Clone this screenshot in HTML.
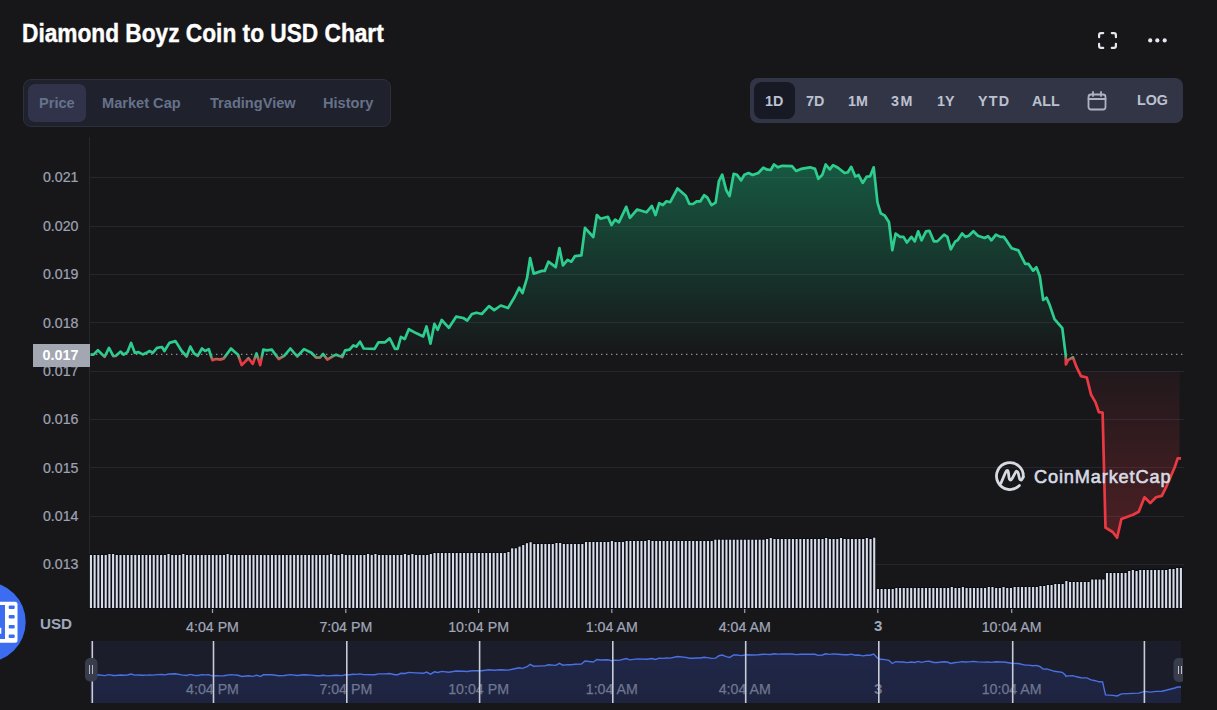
<!DOCTYPE html>
<html><head><meta charset="utf-8"><style>
html,body{margin:0;padding:0;background:#17171a;width:1217px;height:710px;overflow:hidden;font-family:"Liberation Sans",sans-serif;}
.abs{position:absolute}
.title{position:absolute;left:22px;top:20.5px;font-size:22.7px;transform:scaleY(1.12);transform-origin:0 21px;-webkit-text-stroke:0.35px #fff;font-weight:700;color:#fff;white-space:nowrap;letter-spacing:0}
.tabs{position:absolute;left:23px;top:79px;width:366px;height:46px;background:#1f212d;border:1px solid #2c2f3c;border-radius:8px;box-sizing:content-box}
.tab{position:absolute;top:4px;height:38px;line-height:38px;font-size:14.6px;font-weight:700;color:#66728a;white-space:nowrap}
.tabsel{background:#30334a;border-radius:7px}
.rg{position:absolute;left:750px;top:78px;width:433px;height:45px;background:#323546;border-radius:8px}
.rb{position:absolute;top:15px;font-size:14.3px;font-weight:700;color:#bcc1d0;white-space:nowrap;line-height:16px;transform:scaleY(1.05);transform-origin:0 13px}
.sel1d{position:absolute;left:4px;top:4px;width:41px;height:37px;background:#171924;border-radius:8px}
.yl{position:absolute;left:19px;width:59.5px;text-align:right;font-size:14.2px;color:#9ea3b3;line-height:18px;-webkit-text-stroke:0.2px #9ea3b3}
.xl{position:absolute;top:617.5px;width:120px;text-align:center;font-size:14.2px;color:#a1a7bb;line-height:18px;-webkit-text-stroke:0.2px #a1a7bb}
.nl{position:absolute;top:680px;width:120px;text-align:center;font-size:14.2px;color:#6e7690;line-height:18px;-webkit-text-stroke:0.25px #6e7690}
</style></head><body>
<div class="title">Diamond Boyz Coin to USD Chart</div>

<svg class="abs" style="left:1098px;top:32px" width="19" height="17" viewBox="0 0 19 17" fill="none" stroke="#e6e8ef" stroke-width="2.2" stroke-linecap="round">
<path d="M1.1,5.2 V3 Q1.1,1.1 3,1.1 H5.2"/><path d="M13.8,1.1 H16 Q17.9,1.1 17.9,3 V5.2"/><path d="M1.1,11.8 V14 Q1.1,15.9 3,15.9 H5.2"/><path d="M13.8,15.9 H16 Q17.9,15.9 17.9,14 V11.8"/>
</svg>
<svg class="abs" style="left:1145px;top:35px" width="24" height="11" viewBox="0 0 24 11" fill="#e6e8ef">
<circle cx="5.2" cy="5.4" r="2.1"/><circle cx="12.3" cy="5.4" r="2.1"/><circle cx="19.7" cy="5.4" r="2.1"/>
</svg>

<div class="tabs">
 <div class="tab tabsel" style="left:4px;width:58px;"><span style="position:absolute;left:11px">Price</span></div>
 <div class="tab" style="left:78px">Market Cap</div>
 <div class="tab" style="left:186px">TradingView</div>
 <div class="tab" style="left:299px">History</div>
</div>

<div class="rg">
 <div class="sel1d"></div>
 <div class="rb" style="left:15px">1D</div>
 <div class="rb" style="left:56px">7D</div>
 <div class="rb" style="left:98px">1M</div>
 <div class="rb" style="left:141px;letter-spacing:1.5px">3M</div>
 <div class="rb" style="left:187px">1Y</div>
 <div class="rb" style="left:228px;letter-spacing:1.2px">YTD</div>
 <div class="rb" style="left:282px">ALL</div>
 <svg class="abs" style="left:336.5px;top:12.5px" width="20" height="20" viewBox="0 0 20 20" fill="none" stroke="#aeb3c3" stroke-width="1.8" stroke-linecap="round">
  <rect x="1.5" y="3.5" width="17" height="15" rx="2.5"/><line x1="1.5" y1="8" x2="18.5" y2="8"/><line x1="6" y1="1" x2="6" y2="5"/><line x1="14" y1="1" x2="14" y2="5"/>
 </svg>
 <div class="rb" style="left:387px;top:14px">LOG</div>
</div>

<div class="yl" style="top:168.3px">0.021</div>
<div class="yl" style="top:216.8px">0.020</div>
<div class="yl" style="top:265.2px">0.019</div>
<div class="yl" style="top:313.5px">0.018</div>
<div class="yl" style="top:362.0px">0.017</div>
<div class="yl" style="top:410.2px">0.016</div>
<div class="yl" style="top:458.5px">0.015</div>
<div class="yl" style="top:506.9px">0.014</div>
<div class="yl" style="top:555.3px">0.013</div>

<svg class="abs" style="left:0;top:0" width="1217" height="710" viewBox="0 0 1217 710">
<defs>
 <linearGradient id="gg" x1="0" y1="165" x2="0" y2="354.4" gradientUnits="userSpaceOnUse">
  <stop offset="0" stop-color="#16c784" stop-opacity="0.37"/><stop offset="1" stop-color="#16c784" stop-opacity="0.0"/>
 </linearGradient>
 <linearGradient id="rg" x1="0" y1="371" x2="0" y2="538" gradientUnits="userSpaceOnUse">
  <stop offset="0" stop-color="#ea3943" stop-opacity="0.05"/><stop offset="1" stop-color="#ea3943" stop-opacity="0.25"/>
 </linearGradient>
 <linearGradient id="lg" x1="0" y1="354.9" x2="0" y2="360.4" gradientUnits="userSpaceOnUse">
  <stop offset="0" stop-color="#2ccd8e"/><stop offset="1" stop-color="#ea3943"/>
 </linearGradient>
 <clipPath id="above"><rect x="0" y="0" width="1217" height="354.4"/></clipPath>
 <clipPath id="below"><rect x="0" y="371.5" width="1179.5" height="710"/></clipPath>
 <linearGradient id="navg" x1="0" y1="650" x2="0" y2="703" gradientUnits="userSpaceOnUse">
  <stop offset="0" stop-color="#3861fb" stop-opacity="0.15"/><stop offset="1" stop-color="#3861fb" stop-opacity="0.10"/>
 </linearGradient>
</defs>
<g stroke="#26272e" stroke-width="1" shape-rendering="crispEdges">
<line x1="90" y1="177.5" x2="1184" y2="177.5"/>
<line x1="90" y1="226.0" x2="1184" y2="226.0"/>
<line x1="90" y1="274.4" x2="1184" y2="274.4"/>
<line x1="90" y1="322.7" x2="1184" y2="322.7"/>
<line x1="90" y1="371.2" x2="1184" y2="371.2"/>
<line x1="90" y1="419.4" x2="1184" y2="419.4"/>
<line x1="90" y1="467.7" x2="1184" y2="467.7"/>
<line x1="90" y1="516.1" x2="1184" y2="516.1"/>
<line x1="90" y1="564.5" x2="1184" y2="564.5"/>
<line x1="89.5" y1="137" x2="89.5" y2="608"/>
</g>
<path d="M90.5,354.6 L93.5,354.6 L97.9,350.3 L104.6,356.9 L109.0,347.9 L113.3,356.1 L115.7,355.9 L120.7,351.6 L123.7,354.7 L127.4,352.2 L131.1,342.9 L134.8,352.8 L138.5,352.2 L142.8,354.4 L146.5,352.8 L149.6,351.0 L152.7,352.8 L157.0,347.9 L162.0,347.0 L164.4,351.0 L169.4,342.9 L175.5,341.1 L181.7,351.0 L186.6,356.5 L190.3,346.6 L194.0,353.4 L197.7,355.9 L202.0,348.5 L205.1,351.0 L208.8,349.1 L211.3,357.1 L212.5,360.2 L216.2,359.0 L219.9,359.6 L223.6,358.6 L231.0,348.5 L233.7,351.0 L238.0,354.7 L241.7,365.1 L248.5,358.3 L252.8,363.9 L256.5,353.4 L260.2,365.1 L263.3,349.7 L267.0,350.3 L271.9,349.7 L278.7,359.0 L284.2,355.9 L290.4,348.5 L297.2,356.5 L304.0,349.1 L311.4,352.8 L316.3,357.7 L320.0,357.7 L323.1,354.0 L327.4,359.6 L333.5,355.9 L336.0,354.7 L342.2,357.1 L345.2,350.3 L349.6,349.7 L353.3,345.4 L356.3,346.6 L360.0,341.7 L363.7,348.5 L374.6,348.9 L378.5,342.3 L385.1,342.3 L389.7,338.4 L395.0,348.9 L397.6,348.9 L400.9,337.0 L404.8,339.0 L408.8,329.2 L416.0,333.1 L423.2,336.4 L426.5,326.5 L430.5,343.6 L434.4,323.9 L437.7,329.8 L441.7,320.0 L448.9,327.8 L456.1,316.7 L463.3,318.0 L467.3,320.6 L471.9,314.0 L476.5,312.7 L481.8,314.0 L489.0,306.2 L494.2,310.1 L500.8,305.5 L508.0,308.1 L514.6,297.0 L519.2,287.7 L522.5,293.0 L527.0,278.2 L530.1,258.1 L533.7,273.6 L542.0,270.9 L544.7,270.9 L548.4,261.7 L555.7,267.2 L559.4,248.0 L563.0,265.4 L567.6,259.9 L571.3,261.7 L574.9,256.2 L581.4,255.3 L585.0,227.8 L593.3,237.0 L596.9,215.0 L600.6,218.7 L607.9,216.8 L611.6,225.1 L615.2,219.6 L618.9,222.3 L626.2,206.8 L629.9,217.8 L637.2,209.5 L646.4,212.3 L651.9,205.9 L655.5,215.0 L659.2,203.1 L662.9,205.0 L666.5,201.3 L670.2,202.2 L677.5,188.5 L685.8,195.8 L689.4,204.0 L693.1,204.0 L696.7,201.3 L700.4,201.3 L704.1,195.2 L707.4,197.7 L711.5,205.1 L715.6,202.6 L718.9,181.2 L722.2,174.7 L726.3,190.3 L729.6,196.0 L733.7,173.8 L737.0,174.7 L741.1,180.4 L744.4,174.7 L748.5,173.0 L752.6,175.0 L758.3,173.0 L763.3,167.7 L767.4,169.7 L770.7,170.0 L774.0,164.5 L778.1,167.3 L782.2,165.8 L792.0,166.1 L796.1,171.0 L801.1,168.9 L810.1,167.3 L815.0,168.9 L818.3,178.8 L822.4,174.7 L825.7,164.5 L829.8,169.4 L833.1,165.1 L838.0,167.7 L844.6,173.0 L847.9,172.2 L851.2,166.8 L855.3,176.6 L858.6,175.0 L862.7,182.9 L866.8,176.6 L870.1,176.3 L873.7,167.3 L877.5,202.6 L880.8,213.3 L884.9,215.7 L889.0,222.3 L892.3,250.2 L895.6,233.5 L900.1,236.9 L903.5,236.9 L906.9,242.5 L911.4,236.9 L914.8,241.4 L918.2,231.3 L921.5,240.3 L926.0,231.3 L929.4,230.8 L933.9,241.4 L937.3,241.4 L944.1,234.6 L947.4,236.9 L950.8,249.3 L955.3,241.4 L957.6,240.3 L962.1,233.5 L965.5,236.9 L968.8,235.8 L973.4,231.3 L977.9,235.8 L984.6,238.0 L988.0,236.2 L991.4,240.3 L995.9,234.6 L1000.4,236.9 L1003.8,236.9 L1007.1,241.4 L1011.6,248.2 L1018.4,250.4 L1025.2,263.9 L1028.5,263.9 L1033.1,270.7 L1036.4,267.3 L1039.8,276.3 L1043.2,300.0 L1046.6,297.7 L1049.9,305.6 L1054.5,319.1 L1062.3,328.1 L1065.7,355.2 L1065.9,364.5 L1068.0,360.2 L1072.9,357.3 L1076.7,367.4 L1081.0,376.1 L1086.8,377.5 L1091.1,394.8 L1095.4,402.1 L1098.9,412.2 L1102.6,412.7 L1105.5,527.6 L1112.7,532.0 L1117.1,537.7 L1121.4,519.0 L1133.0,514.7 L1138.7,511.8 L1144.5,497.3 L1150.3,503.1 L1156.0,497.3 L1161.8,495.9 L1166.1,487.2 L1174.8,467.0 L1177.7,458.4 L1181.0,458.4 L1181.0,354.4 L90.5,354.4 Z" fill="url(#gg)" clip-path="url(#above)"/>
<path d="M90.5,354.6 L93.5,354.6 L97.9,350.3 L104.6,356.9 L109.0,347.9 L113.3,356.1 L115.7,355.9 L120.7,351.6 L123.7,354.7 L127.4,352.2 L131.1,342.9 L134.8,352.8 L138.5,352.2 L142.8,354.4 L146.5,352.8 L149.6,351.0 L152.7,352.8 L157.0,347.9 L162.0,347.0 L164.4,351.0 L169.4,342.9 L175.5,341.1 L181.7,351.0 L186.6,356.5 L190.3,346.6 L194.0,353.4 L197.7,355.9 L202.0,348.5 L205.1,351.0 L208.8,349.1 L211.3,357.1 L212.5,360.2 L216.2,359.0 L219.9,359.6 L223.6,358.6 L231.0,348.5 L233.7,351.0 L238.0,354.7 L241.7,365.1 L248.5,358.3 L252.8,363.9 L256.5,353.4 L260.2,365.1 L263.3,349.7 L267.0,350.3 L271.9,349.7 L278.7,359.0 L284.2,355.9 L290.4,348.5 L297.2,356.5 L304.0,349.1 L311.4,352.8 L316.3,357.7 L320.0,357.7 L323.1,354.0 L327.4,359.6 L333.5,355.9 L336.0,354.7 L342.2,357.1 L345.2,350.3 L349.6,349.7 L353.3,345.4 L356.3,346.6 L360.0,341.7 L363.7,348.5 L374.6,348.9 L378.5,342.3 L385.1,342.3 L389.7,338.4 L395.0,348.9 L397.6,348.9 L400.9,337.0 L404.8,339.0 L408.8,329.2 L416.0,333.1 L423.2,336.4 L426.5,326.5 L430.5,343.6 L434.4,323.9 L437.7,329.8 L441.7,320.0 L448.9,327.8 L456.1,316.7 L463.3,318.0 L467.3,320.6 L471.9,314.0 L476.5,312.7 L481.8,314.0 L489.0,306.2 L494.2,310.1 L500.8,305.5 L508.0,308.1 L514.6,297.0 L519.2,287.7 L522.5,293.0 L527.0,278.2 L530.1,258.1 L533.7,273.6 L542.0,270.9 L544.7,270.9 L548.4,261.7 L555.7,267.2 L559.4,248.0 L563.0,265.4 L567.6,259.9 L571.3,261.7 L574.9,256.2 L581.4,255.3 L585.0,227.8 L593.3,237.0 L596.9,215.0 L600.6,218.7 L607.9,216.8 L611.6,225.1 L615.2,219.6 L618.9,222.3 L626.2,206.8 L629.9,217.8 L637.2,209.5 L646.4,212.3 L651.9,205.9 L655.5,215.0 L659.2,203.1 L662.9,205.0 L666.5,201.3 L670.2,202.2 L677.5,188.5 L685.8,195.8 L689.4,204.0 L693.1,204.0 L696.7,201.3 L700.4,201.3 L704.1,195.2 L707.4,197.7 L711.5,205.1 L715.6,202.6 L718.9,181.2 L722.2,174.7 L726.3,190.3 L729.6,196.0 L733.7,173.8 L737.0,174.7 L741.1,180.4 L744.4,174.7 L748.5,173.0 L752.6,175.0 L758.3,173.0 L763.3,167.7 L767.4,169.7 L770.7,170.0 L774.0,164.5 L778.1,167.3 L782.2,165.8 L792.0,166.1 L796.1,171.0 L801.1,168.9 L810.1,167.3 L815.0,168.9 L818.3,178.8 L822.4,174.7 L825.7,164.5 L829.8,169.4 L833.1,165.1 L838.0,167.7 L844.6,173.0 L847.9,172.2 L851.2,166.8 L855.3,176.6 L858.6,175.0 L862.7,182.9 L866.8,176.6 L870.1,176.3 L873.7,167.3 L877.5,202.6 L880.8,213.3 L884.9,215.7 L889.0,222.3 L892.3,250.2 L895.6,233.5 L900.1,236.9 L903.5,236.9 L906.9,242.5 L911.4,236.9 L914.8,241.4 L918.2,231.3 L921.5,240.3 L926.0,231.3 L929.4,230.8 L933.9,241.4 L937.3,241.4 L944.1,234.6 L947.4,236.9 L950.8,249.3 L955.3,241.4 L957.6,240.3 L962.1,233.5 L965.5,236.9 L968.8,235.8 L973.4,231.3 L977.9,235.8 L984.6,238.0 L988.0,236.2 L991.4,240.3 L995.9,234.6 L1000.4,236.9 L1003.8,236.9 L1007.1,241.4 L1011.6,248.2 L1018.4,250.4 L1025.2,263.9 L1028.5,263.9 L1033.1,270.7 L1036.4,267.3 L1039.8,276.3 L1043.2,300.0 L1046.6,297.7 L1049.9,305.6 L1054.5,319.1 L1062.3,328.1 L1065.7,355.2 L1065.9,364.5 L1068.0,360.2 L1072.9,357.3 L1076.7,367.4 L1081.0,376.1 L1086.8,377.5 L1091.1,394.8 L1095.4,402.1 L1098.9,412.2 L1102.6,412.7 L1105.5,527.6 L1112.7,532.0 L1117.1,537.7 L1121.4,519.0 L1133.0,514.7 L1138.7,511.8 L1144.5,497.3 L1150.3,503.1 L1156.0,497.3 L1161.8,495.9 L1166.1,487.2 L1174.8,467.0 L1177.7,458.4 L1181.0,458.4 L1181.0,354.4 L90.5,354.4 Z" fill="url(#rg)" clip-path="url(#below)"/>
<line x1="91" y1="354.4" x2="1183" y2="354.4" stroke="#8e9099" stroke-width="1.3" stroke-dasharray="1.4 3.6"/>
<path d="M90.5,354.6 L93.5,354.6 L97.9,350.3 L104.6,356.9 L109.0,347.9 L113.3,356.1 L115.7,355.9 L120.7,351.6 L123.7,354.7 L127.4,352.2 L131.1,342.9 L134.8,352.8 L138.5,352.2 L142.8,354.4 L146.5,352.8 L149.6,351.0 L152.7,352.8 L157.0,347.9 L162.0,347.0 L164.4,351.0 L169.4,342.9 L175.5,341.1 L181.7,351.0 L186.6,356.5 L190.3,346.6 L194.0,353.4 L197.7,355.9 L202.0,348.5 L205.1,351.0 L208.8,349.1 L211.3,357.1 L212.5,360.2 L216.2,359.0 L219.9,359.6 L223.6,358.6 L231.0,348.5 L233.7,351.0 L238.0,354.7 L241.7,365.1 L248.5,358.3 L252.8,363.9 L256.5,353.4 L260.2,365.1 L263.3,349.7 L267.0,350.3 L271.9,349.7 L278.7,359.0 L284.2,355.9 L290.4,348.5 L297.2,356.5 L304.0,349.1 L311.4,352.8 L316.3,357.7 L320.0,357.7 L323.1,354.0 L327.4,359.6 L333.5,355.9 L336.0,354.7 L342.2,357.1 L345.2,350.3 L349.6,349.7 L353.3,345.4 L356.3,346.6 L360.0,341.7 L363.7,348.5 L374.6,348.9 L378.5,342.3 L385.1,342.3 L389.7,338.4 L395.0,348.9 L397.6,348.9 L400.9,337.0 L404.8,339.0 L408.8,329.2 L416.0,333.1 L423.2,336.4 L426.5,326.5 L430.5,343.6 L434.4,323.9 L437.7,329.8 L441.7,320.0 L448.9,327.8 L456.1,316.7 L463.3,318.0 L467.3,320.6 L471.9,314.0 L476.5,312.7 L481.8,314.0 L489.0,306.2 L494.2,310.1 L500.8,305.5 L508.0,308.1 L514.6,297.0 L519.2,287.7 L522.5,293.0 L527.0,278.2 L530.1,258.1 L533.7,273.6 L542.0,270.9 L544.7,270.9 L548.4,261.7 L555.7,267.2 L559.4,248.0 L563.0,265.4 L567.6,259.9 L571.3,261.7 L574.9,256.2 L581.4,255.3 L585.0,227.8 L593.3,237.0 L596.9,215.0 L600.6,218.7 L607.9,216.8 L611.6,225.1 L615.2,219.6 L618.9,222.3 L626.2,206.8 L629.9,217.8 L637.2,209.5 L646.4,212.3 L651.9,205.9 L655.5,215.0 L659.2,203.1 L662.9,205.0 L666.5,201.3 L670.2,202.2 L677.5,188.5 L685.8,195.8 L689.4,204.0 L693.1,204.0 L696.7,201.3 L700.4,201.3 L704.1,195.2 L707.4,197.7 L711.5,205.1 L715.6,202.6 L718.9,181.2 L722.2,174.7 L726.3,190.3 L729.6,196.0 L733.7,173.8 L737.0,174.7 L741.1,180.4 L744.4,174.7 L748.5,173.0 L752.6,175.0 L758.3,173.0 L763.3,167.7 L767.4,169.7 L770.7,170.0 L774.0,164.5 L778.1,167.3 L782.2,165.8 L792.0,166.1 L796.1,171.0 L801.1,168.9 L810.1,167.3 L815.0,168.9 L818.3,178.8 L822.4,174.7 L825.7,164.5 L829.8,169.4 L833.1,165.1 L838.0,167.7 L844.6,173.0 L847.9,172.2 L851.2,166.8 L855.3,176.6 L858.6,175.0 L862.7,182.9 L866.8,176.6 L870.1,176.3 L873.7,167.3 L877.5,202.6 L880.8,213.3 L884.9,215.7 L889.0,222.3 L892.3,250.2 L895.6,233.5 L900.1,236.9 L903.5,236.9 L906.9,242.5 L911.4,236.9 L914.8,241.4 L918.2,231.3 L921.5,240.3 L926.0,231.3 L929.4,230.8 L933.9,241.4 L937.3,241.4 L944.1,234.6 L947.4,236.9 L950.8,249.3 L955.3,241.4 L957.6,240.3 L962.1,233.5 L965.5,236.9 L968.8,235.8 L973.4,231.3 L977.9,235.8 L984.6,238.0 L988.0,236.2 L991.4,240.3 L995.9,234.6 L1000.4,236.9 L1003.8,236.9 L1007.1,241.4 L1011.6,248.2 L1018.4,250.4 L1025.2,263.9 L1028.5,263.9 L1033.1,270.7 L1036.4,267.3 L1039.8,276.3 L1043.2,300.0 L1046.6,297.7 L1049.9,305.6 L1054.5,319.1 L1062.3,328.1 L1065.7,355.2 L1065.9,364.5 L1068.0,360.2 L1072.9,357.3 L1076.7,367.4 L1081.0,376.1 L1086.8,377.5 L1091.1,394.8 L1095.4,402.1 L1098.9,412.2 L1102.6,412.7 L1105.5,527.6 L1112.7,532.0 L1117.1,537.7 L1121.4,519.0 L1133.0,514.7 L1138.7,511.8 L1144.5,497.3 L1150.3,503.1 L1156.0,497.3 L1161.8,495.9 L1166.1,487.2 L1174.8,467.0 L1177.7,458.4 L1181.0,458.4" fill="none" stroke="url(#lg)" stroke-width="2.7" stroke-linejoin="round"/>

<g fill="#0a0d15">
<rect x="89.08" y="554.0" width="3.7" height="55.0"/>
<rect x="92.77" y="554.0" width="3.7" height="55.0"/>
<rect x="96.47" y="554.0" width="3.7" height="55.0"/>
<rect x="100.16" y="554.0" width="3.7" height="55.0"/>
<rect x="103.86" y="554.0" width="3.7" height="55.0"/>
<rect x="107.55" y="553.0" width="3.7" height="56.0"/>
<rect x="111.25" y="553.0" width="3.7" height="56.0"/>
<rect x="114.94" y="554.0" width="3.7" height="55.0"/>
<rect x="118.64" y="554.0" width="3.7" height="55.0"/>
<rect x="122.33" y="554.0" width="3.7" height="55.0"/>
<rect x="126.03" y="554.0" width="3.7" height="55.0"/>
<rect x="129.72" y="554.0" width="3.7" height="55.0"/>
<rect x="133.42" y="554.0" width="3.7" height="55.0"/>
<rect x="137.11" y="554.0" width="3.7" height="55.0"/>
<rect x="140.81" y="554.0" width="3.7" height="55.0"/>
<rect x="144.50" y="554.0" width="3.7" height="55.0"/>
<rect x="148.20" y="554.0" width="3.7" height="55.0"/>
<rect x="151.89" y="554.0" width="3.7" height="55.0"/>
<rect x="155.59" y="554.0" width="3.7" height="55.0"/>
<rect x="159.28" y="554.0" width="3.7" height="55.0"/>
<rect x="162.98" y="554.0" width="3.7" height="55.0"/>
<rect x="166.67" y="553.0" width="3.7" height="56.0"/>
<rect x="170.37" y="554.0" width="3.7" height="55.0"/>
<rect x="174.06" y="554.0" width="3.7" height="55.0"/>
<rect x="177.76" y="554.0" width="3.7" height="55.0"/>
<rect x="181.45" y="553.0" width="3.7" height="56.0"/>
<rect x="185.15" y="554.0" width="3.7" height="55.0"/>
<rect x="188.84" y="554.0" width="3.7" height="55.0"/>
<rect x="192.53" y="554.0" width="3.7" height="55.0"/>
<rect x="196.23" y="554.0" width="3.7" height="55.0"/>
<rect x="199.92" y="554.0" width="3.7" height="55.0"/>
<rect x="203.62" y="554.0" width="3.7" height="55.0"/>
<rect x="207.31" y="554.0" width="3.7" height="55.0"/>
<rect x="211.01" y="554.0" width="3.7" height="55.0"/>
<rect x="214.70" y="554.0" width="3.7" height="55.0"/>
<rect x="218.40" y="554.0" width="3.7" height="55.0"/>
<rect x="222.09" y="554.0" width="3.7" height="55.0"/>
<rect x="225.79" y="553.0" width="3.7" height="56.0"/>
<rect x="229.48" y="554.0" width="3.7" height="55.0"/>
<rect x="233.18" y="554.0" width="3.7" height="55.0"/>
<rect x="236.87" y="554.0" width="3.7" height="55.0"/>
<rect x="240.57" y="554.0" width="3.7" height="55.0"/>
<rect x="244.26" y="554.0" width="3.7" height="55.0"/>
<rect x="247.96" y="554.0" width="3.7" height="55.0"/>
<rect x="251.65" y="554.0" width="3.7" height="55.0"/>
<rect x="255.35" y="554.0" width="3.7" height="55.0"/>
<rect x="259.04" y="554.0" width="3.7" height="55.0"/>
<rect x="262.74" y="554.0" width="3.7" height="55.0"/>
<rect x="266.43" y="554.0" width="3.7" height="55.0"/>
<rect x="270.13" y="554.0" width="3.7" height="55.0"/>
<rect x="273.82" y="554.0" width="3.7" height="55.0"/>
<rect x="277.52" y="554.0" width="3.7" height="55.0"/>
<rect x="281.21" y="554.0" width="3.7" height="55.0"/>
<rect x="284.91" y="554.0" width="3.7" height="55.0"/>
<rect x="288.60" y="554.0" width="3.7" height="55.0"/>
<rect x="292.29" y="554.0" width="3.7" height="55.0"/>
<rect x="295.99" y="554.0" width="3.7" height="55.0"/>
<rect x="299.68" y="554.0" width="3.7" height="55.0"/>
<rect x="303.38" y="554.0" width="3.7" height="55.0"/>
<rect x="307.07" y="554.0" width="3.7" height="55.0"/>
<rect x="310.77" y="554.0" width="3.7" height="55.0"/>
<rect x="314.46" y="554.0" width="3.7" height="55.0"/>
<rect x="318.16" y="554.0" width="3.7" height="55.0"/>
<rect x="321.85" y="554.0" width="3.7" height="55.0"/>
<rect x="325.55" y="554.0" width="3.7" height="55.0"/>
<rect x="329.24" y="553.0" width="3.7" height="56.0"/>
<rect x="332.94" y="554.0" width="3.7" height="55.0"/>
<rect x="336.63" y="554.0" width="3.7" height="55.0"/>
<rect x="340.33" y="553.0" width="3.7" height="56.0"/>
<rect x="344.02" y="554.0" width="3.7" height="55.0"/>
<rect x="347.72" y="554.0" width="3.7" height="55.0"/>
<rect x="351.41" y="554.0" width="3.7" height="55.0"/>
<rect x="355.11" y="554.0" width="3.7" height="55.0"/>
<rect x="358.80" y="554.0" width="3.7" height="55.0"/>
<rect x="362.50" y="554.0" width="3.7" height="55.0"/>
<rect x="366.19" y="553.0" width="3.7" height="56.0"/>
<rect x="369.89" y="554.0" width="3.7" height="55.0"/>
<rect x="373.58" y="553.0" width="3.7" height="56.0"/>
<rect x="377.28" y="554.0" width="3.7" height="55.0"/>
<rect x="380.97" y="554.0" width="3.7" height="55.0"/>
<rect x="384.67" y="554.0" width="3.7" height="55.0"/>
<rect x="388.36" y="554.0" width="3.7" height="55.0"/>
<rect x="392.05" y="554.0" width="3.7" height="55.0"/>
<rect x="395.75" y="554.0" width="3.7" height="55.0"/>
<rect x="399.44" y="554.0" width="3.7" height="55.0"/>
<rect x="403.14" y="553.0" width="3.7" height="56.0"/>
<rect x="406.83" y="554.0" width="3.7" height="55.0"/>
<rect x="410.53" y="553.0" width="3.7" height="56.0"/>
<rect x="414.22" y="554.0" width="3.7" height="55.0"/>
<rect x="417.92" y="554.0" width="3.7" height="55.0"/>
<rect x="421.61" y="554.0" width="3.7" height="55.0"/>
<rect x="425.31" y="554.0" width="3.7" height="55.0"/>
<rect x="429.00" y="553.0" width="3.7" height="56.0"/>
<rect x="432.70" y="552.0" width="3.7" height="57.0"/>
<rect x="436.39" y="552.0" width="3.7" height="57.0"/>
<rect x="440.09" y="552.0" width="3.7" height="57.0"/>
<rect x="443.78" y="552.0" width="3.7" height="57.0"/>
<rect x="447.48" y="552.0" width="3.7" height="57.0"/>
<rect x="451.17" y="552.0" width="3.7" height="57.0"/>
<rect x="454.87" y="552.0" width="3.7" height="57.0"/>
<rect x="458.56" y="552.0" width="3.7" height="57.0"/>
<rect x="462.26" y="552.0" width="3.7" height="57.0"/>
<rect x="465.95" y="552.0" width="3.7" height="57.0"/>
<rect x="469.65" y="552.0" width="3.7" height="57.0"/>
<rect x="473.34" y="552.0" width="3.7" height="57.0"/>
<rect x="477.04" y="552.0" width="3.7" height="57.0"/>
<rect x="480.73" y="552.0" width="3.7" height="57.0"/>
<rect x="484.43" y="552.0" width="3.7" height="57.0"/>
<rect x="488.12" y="552.0" width="3.7" height="57.0"/>
<rect x="491.81" y="552.0" width="3.7" height="57.0"/>
<rect x="495.51" y="552.0" width="3.7" height="57.0"/>
<rect x="499.20" y="552.0" width="3.7" height="57.0"/>
<rect x="502.90" y="552.0" width="3.7" height="57.0"/>
<rect x="506.59" y="551.0" width="3.7" height="58.0"/>
<rect x="510.29" y="547.3" width="3.7" height="61.7"/>
<rect x="513.98" y="547.3" width="3.7" height="61.7"/>
<rect x="517.68" y="545.6" width="3.7" height="63.4"/>
<rect x="521.37" y="544.0" width="3.7" height="65.0"/>
<rect x="525.07" y="542.2" width="3.7" height="66.8"/>
<rect x="528.76" y="541.2" width="3.7" height="67.8"/>
<rect x="532.46" y="543.0" width="3.7" height="66.0"/>
<rect x="536.15" y="543.0" width="3.7" height="66.0"/>
<rect x="539.85" y="543.0" width="3.7" height="66.0"/>
<rect x="543.54" y="543.0" width="3.7" height="66.0"/>
<rect x="547.24" y="543.0" width="3.7" height="66.0"/>
<rect x="550.93" y="543.0" width="3.7" height="66.0"/>
<rect x="554.63" y="542.0" width="3.7" height="67.0"/>
<rect x="558.32" y="542.0" width="3.7" height="67.0"/>
<rect x="562.02" y="543.0" width="3.7" height="66.0"/>
<rect x="565.71" y="543.0" width="3.7" height="66.0"/>
<rect x="569.41" y="543.0" width="3.7" height="66.0"/>
<rect x="573.10" y="543.0" width="3.7" height="66.0"/>
<rect x="576.80" y="543.0" width="3.7" height="66.0"/>
<rect x="580.49" y="543.0" width="3.7" height="66.0"/>
<rect x="584.19" y="541.0" width="3.7" height="68.0"/>
<rect x="587.88" y="541.0" width="3.7" height="68.0"/>
<rect x="591.57" y="541.0" width="3.7" height="68.0"/>
<rect x="595.27" y="541.0" width="3.7" height="68.0"/>
<rect x="598.96" y="541.0" width="3.7" height="68.0"/>
<rect x="602.66" y="541.0" width="3.7" height="68.0"/>
<rect x="606.35" y="541.0" width="3.7" height="68.0"/>
<rect x="610.05" y="540.0" width="3.7" height="69.0"/>
<rect x="613.74" y="541.0" width="3.7" height="68.0"/>
<rect x="617.44" y="541.0" width="3.7" height="68.0"/>
<rect x="621.13" y="541.0" width="3.7" height="68.0"/>
<rect x="624.83" y="540.0" width="3.7" height="69.0"/>
<rect x="628.52" y="540.0" width="3.7" height="69.0"/>
<rect x="632.22" y="540.0" width="3.7" height="69.0"/>
<rect x="635.91" y="540.0" width="3.7" height="69.0"/>
<rect x="639.61" y="540.0" width="3.7" height="69.0"/>
<rect x="643.30" y="540.0" width="3.7" height="69.0"/>
<rect x="647.00" y="539.0" width="3.7" height="70.0"/>
<rect x="650.69" y="540.0" width="3.7" height="69.0"/>
<rect x="654.39" y="540.0" width="3.7" height="69.0"/>
<rect x="658.08" y="540.0" width="3.7" height="69.0"/>
<rect x="661.78" y="540.0" width="3.7" height="69.0"/>
<rect x="665.47" y="540.0" width="3.7" height="69.0"/>
<rect x="669.17" y="540.0" width="3.7" height="69.0"/>
<rect x="672.86" y="540.0" width="3.7" height="69.0"/>
<rect x="676.56" y="540.0" width="3.7" height="69.0"/>
<rect x="680.25" y="540.0" width="3.7" height="69.0"/>
<rect x="683.94" y="540.0" width="3.7" height="69.0"/>
<rect x="687.64" y="540.0" width="3.7" height="69.0"/>
<rect x="691.33" y="540.0" width="3.7" height="69.0"/>
<rect x="695.03" y="540.0" width="3.7" height="69.0"/>
<rect x="698.72" y="540.0" width="3.7" height="69.0"/>
<rect x="702.42" y="540.0" width="3.7" height="69.0"/>
<rect x="706.11" y="540.0" width="3.7" height="69.0"/>
<rect x="709.81" y="540.0" width="3.7" height="69.0"/>
<rect x="713.50" y="538.7" width="3.7" height="70.3"/>
<rect x="717.20" y="538.7" width="3.7" height="70.3"/>
<rect x="720.89" y="538.7" width="3.7" height="70.3"/>
<rect x="724.59" y="538.7" width="3.7" height="70.3"/>
<rect x="728.28" y="538.7" width="3.7" height="70.3"/>
<rect x="731.98" y="538.7" width="3.7" height="70.3"/>
<rect x="735.67" y="538.7" width="3.7" height="70.3"/>
<rect x="739.37" y="538.7" width="3.7" height="70.3"/>
<rect x="743.06" y="538.7" width="3.7" height="70.3"/>
<rect x="746.76" y="538.7" width="3.7" height="70.3"/>
<rect x="750.45" y="538.7" width="3.7" height="70.3"/>
<rect x="754.15" y="538.7" width="3.7" height="70.3"/>
<rect x="757.84" y="538.7" width="3.7" height="70.3"/>
<rect x="761.54" y="538.7" width="3.7" height="70.3"/>
<rect x="765.23" y="538.0" width="3.7" height="71.0"/>
<rect x="768.93" y="537.0" width="3.7" height="72.0"/>
<rect x="772.62" y="538.0" width="3.7" height="71.0"/>
<rect x="776.32" y="538.0" width="3.7" height="71.0"/>
<rect x="780.01" y="538.0" width="3.7" height="71.0"/>
<rect x="783.70" y="538.0" width="3.7" height="71.0"/>
<rect x="787.40" y="538.0" width="3.7" height="71.0"/>
<rect x="791.09" y="538.0" width="3.7" height="71.0"/>
<rect x="794.79" y="538.0" width="3.7" height="71.0"/>
<rect x="798.48" y="538.0" width="3.7" height="71.0"/>
<rect x="802.18" y="538.0" width="3.7" height="71.0"/>
<rect x="805.87" y="538.0" width="3.7" height="71.0"/>
<rect x="809.57" y="538.0" width="3.7" height="71.0"/>
<rect x="813.26" y="538.0" width="3.7" height="71.0"/>
<rect x="816.96" y="538.0" width="3.7" height="71.0"/>
<rect x="820.65" y="538.0" width="3.7" height="71.0"/>
<rect x="824.35" y="537.0" width="3.7" height="72.0"/>
<rect x="828.04" y="538.0" width="3.7" height="71.0"/>
<rect x="831.74" y="538.0" width="3.7" height="71.0"/>
<rect x="835.43" y="538.0" width="3.7" height="71.0"/>
<rect x="839.13" y="537.0" width="3.7" height="72.0"/>
<rect x="842.82" y="538.0" width="3.7" height="71.0"/>
<rect x="846.52" y="538.0" width="3.7" height="71.0"/>
<rect x="850.21" y="538.0" width="3.7" height="71.0"/>
<rect x="853.91" y="538.0" width="3.7" height="71.0"/>
<rect x="857.60" y="538.0" width="3.7" height="71.0"/>
<rect x="861.30" y="538.0" width="3.7" height="71.0"/>
<rect x="864.99" y="537.0" width="3.7" height="72.0"/>
<rect x="868.69" y="538.0" width="3.7" height="71.0"/>
<rect x="872.38" y="536.7" width="3.7" height="72.3"/>
<rect x="876.08" y="588.0" width="3.7" height="21.0"/>
<rect x="879.77" y="588.0" width="3.7" height="21.0"/>
<rect x="883.46" y="588.0" width="3.7" height="21.0"/>
<rect x="887.16" y="588.0" width="3.7" height="21.0"/>
<rect x="890.85" y="588.0" width="3.7" height="21.0"/>
<rect x="894.55" y="587.0" width="3.7" height="22.0"/>
<rect x="898.24" y="587.0" width="3.7" height="22.0"/>
<rect x="901.94" y="587.0" width="3.7" height="22.0"/>
<rect x="905.63" y="587.0" width="3.7" height="22.0"/>
<rect x="909.33" y="587.0" width="3.7" height="22.0"/>
<rect x="913.02" y="587.0" width="3.7" height="22.0"/>
<rect x="916.72" y="587.0" width="3.7" height="22.0"/>
<rect x="920.41" y="587.0" width="3.7" height="22.0"/>
<rect x="924.11" y="587.0" width="3.7" height="22.0"/>
<rect x="927.80" y="587.0" width="3.7" height="22.0"/>
<rect x="931.50" y="587.0" width="3.7" height="22.0"/>
<rect x="935.19" y="587.0" width="3.7" height="22.0"/>
<rect x="938.89" y="587.0" width="3.7" height="22.0"/>
<rect x="942.58" y="587.0" width="3.7" height="22.0"/>
<rect x="946.28" y="587.0" width="3.7" height="22.0"/>
<rect x="949.97" y="586.0" width="3.7" height="23.0"/>
<rect x="953.67" y="587.0" width="3.7" height="22.0"/>
<rect x="957.36" y="587.0" width="3.7" height="22.0"/>
<rect x="961.06" y="586.0" width="3.7" height="23.0"/>
<rect x="964.75" y="587.0" width="3.7" height="22.0"/>
<rect x="968.45" y="587.0" width="3.7" height="22.0"/>
<rect x="972.14" y="587.0" width="3.7" height="22.0"/>
<rect x="975.84" y="587.0" width="3.7" height="22.0"/>
<rect x="979.53" y="587.0" width="3.7" height="22.0"/>
<rect x="983.22" y="587.0" width="3.7" height="22.0"/>
<rect x="986.92" y="586.0" width="3.7" height="23.0"/>
<rect x="990.61" y="586.0" width="3.7" height="23.0"/>
<rect x="994.31" y="587.0" width="3.7" height="22.0"/>
<rect x="998.00" y="587.0" width="3.7" height="22.0"/>
<rect x="1001.70" y="586.0" width="3.7" height="23.0"/>
<rect x="1005.39" y="587.0" width="3.7" height="22.0"/>
<rect x="1009.09" y="587.0" width="3.7" height="22.0"/>
<rect x="1012.78" y="586.0" width="3.7" height="23.0"/>
<rect x="1016.48" y="586.0" width="3.7" height="23.0"/>
<rect x="1020.17" y="586.0" width="3.7" height="23.0"/>
<rect x="1023.87" y="586.0" width="3.7" height="23.0"/>
<rect x="1027.56" y="586.0" width="3.7" height="23.0"/>
<rect x="1031.26" y="586.0" width="3.7" height="23.0"/>
<rect x="1034.95" y="586.0" width="3.7" height="23.0"/>
<rect x="1038.65" y="585.0" width="3.7" height="24.0"/>
<rect x="1042.34" y="585.0" width="3.7" height="24.0"/>
<rect x="1046.04" y="584.0" width="3.7" height="25.0"/>
<rect x="1049.73" y="584.0" width="3.7" height="25.0"/>
<rect x="1053.43" y="583.0" width="3.7" height="26.0"/>
<rect x="1057.12" y="583.0" width="3.7" height="26.0"/>
<rect x="1060.82" y="583.0" width="3.7" height="26.0"/>
<rect x="1064.51" y="580.0" width="3.7" height="29.0"/>
<rect x="1068.21" y="581.0" width="3.7" height="28.0"/>
<rect x="1071.90" y="581.0" width="3.7" height="28.0"/>
<rect x="1075.60" y="581.0" width="3.7" height="28.0"/>
<rect x="1079.29" y="581.0" width="3.7" height="28.0"/>
<rect x="1082.98" y="581.0" width="3.7" height="28.0"/>
<rect x="1086.68" y="581.0" width="3.7" height="28.0"/>
<rect x="1090.37" y="578.5" width="3.7" height="30.5"/>
<rect x="1094.07" y="578.5" width="3.7" height="30.5"/>
<rect x="1097.76" y="578.5" width="3.7" height="30.5"/>
<rect x="1101.46" y="578.5" width="3.7" height="30.5"/>
<rect x="1105.15" y="572.0" width="3.7" height="37.0"/>
<rect x="1108.85" y="572.0" width="3.7" height="37.0"/>
<rect x="1112.54" y="572.0" width="3.7" height="37.0"/>
<rect x="1116.24" y="572.0" width="3.7" height="37.0"/>
<rect x="1119.93" y="572.0" width="3.7" height="37.0"/>
<rect x="1123.63" y="572.0" width="3.7" height="37.0"/>
<rect x="1127.32" y="570.0" width="3.7" height="39.0"/>
<rect x="1131.02" y="569.0" width="3.7" height="40.0"/>
<rect x="1134.71" y="570.0" width="3.7" height="39.0"/>
<rect x="1138.41" y="569.0" width="3.7" height="40.0"/>
<rect x="1142.10" y="569.0" width="3.7" height="40.0"/>
<rect x="1145.80" y="569.0" width="3.7" height="40.0"/>
<rect x="1149.49" y="569.0" width="3.7" height="40.0"/>
<rect x="1153.19" y="569.0" width="3.7" height="40.0"/>
<rect x="1156.88" y="569.0" width="3.7" height="40.0"/>
<rect x="1160.58" y="569.0" width="3.7" height="40.0"/>
<rect x="1164.27" y="569.0" width="3.7" height="40.0"/>
<rect x="1167.97" y="568.0" width="3.7" height="41.0"/>
<rect x="1171.66" y="568.0" width="3.7" height="41.0"/>
<rect x="1175.36" y="567.0" width="3.7" height="42.0"/>
<rect x="1179.05" y="567.0" width="3.7" height="42.0"/>
</g>
<g fill="#d8dce7">
<rect x="89.88" y="555.0" width="2.1" height="53.0"/>
<rect x="93.57" y="555.0" width="2.1" height="53.0"/>
<rect x="97.27" y="555.0" width="2.1" height="53.0"/>
<rect x="100.96" y="555.0" width="2.1" height="53.0"/>
<rect x="104.66" y="555.0" width="2.1" height="53.0"/>
<rect x="108.35" y="554.0" width="2.1" height="54.0"/>
<rect x="112.05" y="554.0" width="2.1" height="54.0"/>
<rect x="115.74" y="555.0" width="2.1" height="53.0"/>
<rect x="119.44" y="555.0" width="2.1" height="53.0"/>
<rect x="123.13" y="555.0" width="2.1" height="53.0"/>
<rect x="126.83" y="555.0" width="2.1" height="53.0"/>
<rect x="130.52" y="555.0" width="2.1" height="53.0"/>
<rect x="134.22" y="555.0" width="2.1" height="53.0"/>
<rect x="137.91" y="555.0" width="2.1" height="53.0"/>
<rect x="141.61" y="555.0" width="2.1" height="53.0"/>
<rect x="145.30" y="555.0" width="2.1" height="53.0"/>
<rect x="149.00" y="555.0" width="2.1" height="53.0"/>
<rect x="152.69" y="555.0" width="2.1" height="53.0"/>
<rect x="156.39" y="555.0" width="2.1" height="53.0"/>
<rect x="160.08" y="555.0" width="2.1" height="53.0"/>
<rect x="163.78" y="555.0" width="2.1" height="53.0"/>
<rect x="167.47" y="554.0" width="2.1" height="54.0"/>
<rect x="171.17" y="555.0" width="2.1" height="53.0"/>
<rect x="174.86" y="555.0" width="2.1" height="53.0"/>
<rect x="178.56" y="555.0" width="2.1" height="53.0"/>
<rect x="182.25" y="554.0" width="2.1" height="54.0"/>
<rect x="185.95" y="555.0" width="2.1" height="53.0"/>
<rect x="189.64" y="555.0" width="2.1" height="53.0"/>
<rect x="193.33" y="555.0" width="2.1" height="53.0"/>
<rect x="197.03" y="555.0" width="2.1" height="53.0"/>
<rect x="200.72" y="555.0" width="2.1" height="53.0"/>
<rect x="204.42" y="555.0" width="2.1" height="53.0"/>
<rect x="208.11" y="555.0" width="2.1" height="53.0"/>
<rect x="211.81" y="555.0" width="2.1" height="53.0"/>
<rect x="215.50" y="555.0" width="2.1" height="53.0"/>
<rect x="219.20" y="555.0" width="2.1" height="53.0"/>
<rect x="222.89" y="555.0" width="2.1" height="53.0"/>
<rect x="226.59" y="554.0" width="2.1" height="54.0"/>
<rect x="230.28" y="555.0" width="2.1" height="53.0"/>
<rect x="233.98" y="555.0" width="2.1" height="53.0"/>
<rect x="237.67" y="555.0" width="2.1" height="53.0"/>
<rect x="241.37" y="555.0" width="2.1" height="53.0"/>
<rect x="245.06" y="555.0" width="2.1" height="53.0"/>
<rect x="248.76" y="555.0" width="2.1" height="53.0"/>
<rect x="252.45" y="555.0" width="2.1" height="53.0"/>
<rect x="256.15" y="555.0" width="2.1" height="53.0"/>
<rect x="259.84" y="555.0" width="2.1" height="53.0"/>
<rect x="263.54" y="555.0" width="2.1" height="53.0"/>
<rect x="267.23" y="555.0" width="2.1" height="53.0"/>
<rect x="270.93" y="555.0" width="2.1" height="53.0"/>
<rect x="274.62" y="555.0" width="2.1" height="53.0"/>
<rect x="278.32" y="555.0" width="2.1" height="53.0"/>
<rect x="282.01" y="555.0" width="2.1" height="53.0"/>
<rect x="285.71" y="555.0" width="2.1" height="53.0"/>
<rect x="289.40" y="555.0" width="2.1" height="53.0"/>
<rect x="293.09" y="555.0" width="2.1" height="53.0"/>
<rect x="296.79" y="555.0" width="2.1" height="53.0"/>
<rect x="300.48" y="555.0" width="2.1" height="53.0"/>
<rect x="304.18" y="555.0" width="2.1" height="53.0"/>
<rect x="307.87" y="555.0" width="2.1" height="53.0"/>
<rect x="311.57" y="555.0" width="2.1" height="53.0"/>
<rect x="315.26" y="555.0" width="2.1" height="53.0"/>
<rect x="318.96" y="555.0" width="2.1" height="53.0"/>
<rect x="322.65" y="555.0" width="2.1" height="53.0"/>
<rect x="326.35" y="555.0" width="2.1" height="53.0"/>
<rect x="330.04" y="554.0" width="2.1" height="54.0"/>
<rect x="333.74" y="555.0" width="2.1" height="53.0"/>
<rect x="337.43" y="555.0" width="2.1" height="53.0"/>
<rect x="341.13" y="554.0" width="2.1" height="54.0"/>
<rect x="344.82" y="555.0" width="2.1" height="53.0"/>
<rect x="348.52" y="555.0" width="2.1" height="53.0"/>
<rect x="352.21" y="555.0" width="2.1" height="53.0"/>
<rect x="355.91" y="555.0" width="2.1" height="53.0"/>
<rect x="359.60" y="555.0" width="2.1" height="53.0"/>
<rect x="363.30" y="555.0" width="2.1" height="53.0"/>
<rect x="366.99" y="554.0" width="2.1" height="54.0"/>
<rect x="370.69" y="555.0" width="2.1" height="53.0"/>
<rect x="374.38" y="554.0" width="2.1" height="54.0"/>
<rect x="378.08" y="555.0" width="2.1" height="53.0"/>
<rect x="381.77" y="555.0" width="2.1" height="53.0"/>
<rect x="385.47" y="555.0" width="2.1" height="53.0"/>
<rect x="389.16" y="555.0" width="2.1" height="53.0"/>
<rect x="392.85" y="555.0" width="2.1" height="53.0"/>
<rect x="396.55" y="555.0" width="2.1" height="53.0"/>
<rect x="400.24" y="555.0" width="2.1" height="53.0"/>
<rect x="403.94" y="554.0" width="2.1" height="54.0"/>
<rect x="407.63" y="555.0" width="2.1" height="53.0"/>
<rect x="411.33" y="554.0" width="2.1" height="54.0"/>
<rect x="415.02" y="555.0" width="2.1" height="53.0"/>
<rect x="418.72" y="555.0" width="2.1" height="53.0"/>
<rect x="422.41" y="555.0" width="2.1" height="53.0"/>
<rect x="426.11" y="555.0" width="2.1" height="53.0"/>
<rect x="429.80" y="554.0" width="2.1" height="54.0"/>
<rect x="433.50" y="553.0" width="2.1" height="55.0"/>
<rect x="437.19" y="553.0" width="2.1" height="55.0"/>
<rect x="440.89" y="553.0" width="2.1" height="55.0"/>
<rect x="444.58" y="553.0" width="2.1" height="55.0"/>
<rect x="448.28" y="553.0" width="2.1" height="55.0"/>
<rect x="451.97" y="553.0" width="2.1" height="55.0"/>
<rect x="455.67" y="553.0" width="2.1" height="55.0"/>
<rect x="459.36" y="553.0" width="2.1" height="55.0"/>
<rect x="463.06" y="553.0" width="2.1" height="55.0"/>
<rect x="466.75" y="553.0" width="2.1" height="55.0"/>
<rect x="470.45" y="553.0" width="2.1" height="55.0"/>
<rect x="474.14" y="553.0" width="2.1" height="55.0"/>
<rect x="477.84" y="553.0" width="2.1" height="55.0"/>
<rect x="481.53" y="553.0" width="2.1" height="55.0"/>
<rect x="485.23" y="553.0" width="2.1" height="55.0"/>
<rect x="488.92" y="553.0" width="2.1" height="55.0"/>
<rect x="492.61" y="553.0" width="2.1" height="55.0"/>
<rect x="496.31" y="553.0" width="2.1" height="55.0"/>
<rect x="500.00" y="553.0" width="2.1" height="55.0"/>
<rect x="503.70" y="553.0" width="2.1" height="55.0"/>
<rect x="507.39" y="552.0" width="2.1" height="56.0"/>
<rect x="511.09" y="548.3" width="2.1" height="59.7"/>
<rect x="514.78" y="548.3" width="2.1" height="59.7"/>
<rect x="518.48" y="546.6" width="2.1" height="61.4"/>
<rect x="522.17" y="545.0" width="2.1" height="63.0"/>
<rect x="525.87" y="543.2" width="2.1" height="64.8"/>
<rect x="529.56" y="542.2" width="2.1" height="65.8"/>
<rect x="533.26" y="544.0" width="2.1" height="64.0"/>
<rect x="536.95" y="544.0" width="2.1" height="64.0"/>
<rect x="540.65" y="544.0" width="2.1" height="64.0"/>
<rect x="544.34" y="544.0" width="2.1" height="64.0"/>
<rect x="548.04" y="544.0" width="2.1" height="64.0"/>
<rect x="551.73" y="544.0" width="2.1" height="64.0"/>
<rect x="555.43" y="543.0" width="2.1" height="65.0"/>
<rect x="559.12" y="543.0" width="2.1" height="65.0"/>
<rect x="562.82" y="544.0" width="2.1" height="64.0"/>
<rect x="566.51" y="544.0" width="2.1" height="64.0"/>
<rect x="570.21" y="544.0" width="2.1" height="64.0"/>
<rect x="573.90" y="544.0" width="2.1" height="64.0"/>
<rect x="577.60" y="544.0" width="2.1" height="64.0"/>
<rect x="581.29" y="544.0" width="2.1" height="64.0"/>
<rect x="584.99" y="542.0" width="2.1" height="66.0"/>
<rect x="588.68" y="542.0" width="2.1" height="66.0"/>
<rect x="592.37" y="542.0" width="2.1" height="66.0"/>
<rect x="596.07" y="542.0" width="2.1" height="66.0"/>
<rect x="599.76" y="542.0" width="2.1" height="66.0"/>
<rect x="603.46" y="542.0" width="2.1" height="66.0"/>
<rect x="607.15" y="542.0" width="2.1" height="66.0"/>
<rect x="610.85" y="541.0" width="2.1" height="67.0"/>
<rect x="614.54" y="542.0" width="2.1" height="66.0"/>
<rect x="618.24" y="542.0" width="2.1" height="66.0"/>
<rect x="621.93" y="542.0" width="2.1" height="66.0"/>
<rect x="625.63" y="541.0" width="2.1" height="67.0"/>
<rect x="629.32" y="541.0" width="2.1" height="67.0"/>
<rect x="633.02" y="541.0" width="2.1" height="67.0"/>
<rect x="636.71" y="541.0" width="2.1" height="67.0"/>
<rect x="640.41" y="541.0" width="2.1" height="67.0"/>
<rect x="644.10" y="541.0" width="2.1" height="67.0"/>
<rect x="647.80" y="540.0" width="2.1" height="68.0"/>
<rect x="651.49" y="541.0" width="2.1" height="67.0"/>
<rect x="655.19" y="541.0" width="2.1" height="67.0"/>
<rect x="658.88" y="541.0" width="2.1" height="67.0"/>
<rect x="662.58" y="541.0" width="2.1" height="67.0"/>
<rect x="666.27" y="541.0" width="2.1" height="67.0"/>
<rect x="669.97" y="541.0" width="2.1" height="67.0"/>
<rect x="673.66" y="541.0" width="2.1" height="67.0"/>
<rect x="677.36" y="541.0" width="2.1" height="67.0"/>
<rect x="681.05" y="541.0" width="2.1" height="67.0"/>
<rect x="684.74" y="541.0" width="2.1" height="67.0"/>
<rect x="688.44" y="541.0" width="2.1" height="67.0"/>
<rect x="692.13" y="541.0" width="2.1" height="67.0"/>
<rect x="695.83" y="541.0" width="2.1" height="67.0"/>
<rect x="699.52" y="541.0" width="2.1" height="67.0"/>
<rect x="703.22" y="541.0" width="2.1" height="67.0"/>
<rect x="706.91" y="541.0" width="2.1" height="67.0"/>
<rect x="710.61" y="541.0" width="2.1" height="67.0"/>
<rect x="714.30" y="539.7" width="2.1" height="68.3"/>
<rect x="718.00" y="539.7" width="2.1" height="68.3"/>
<rect x="721.69" y="539.7" width="2.1" height="68.3"/>
<rect x="725.39" y="539.7" width="2.1" height="68.3"/>
<rect x="729.08" y="539.7" width="2.1" height="68.3"/>
<rect x="732.78" y="539.7" width="2.1" height="68.3"/>
<rect x="736.47" y="539.7" width="2.1" height="68.3"/>
<rect x="740.17" y="539.7" width="2.1" height="68.3"/>
<rect x="743.86" y="539.7" width="2.1" height="68.3"/>
<rect x="747.56" y="539.7" width="2.1" height="68.3"/>
<rect x="751.25" y="539.7" width="2.1" height="68.3"/>
<rect x="754.95" y="539.7" width="2.1" height="68.3"/>
<rect x="758.64" y="539.7" width="2.1" height="68.3"/>
<rect x="762.34" y="539.7" width="2.1" height="68.3"/>
<rect x="766.03" y="539.0" width="2.1" height="69.0"/>
<rect x="769.73" y="538.0" width="2.1" height="70.0"/>
<rect x="773.42" y="539.0" width="2.1" height="69.0"/>
<rect x="777.12" y="539.0" width="2.1" height="69.0"/>
<rect x="780.81" y="539.0" width="2.1" height="69.0"/>
<rect x="784.50" y="539.0" width="2.1" height="69.0"/>
<rect x="788.20" y="539.0" width="2.1" height="69.0"/>
<rect x="791.89" y="539.0" width="2.1" height="69.0"/>
<rect x="795.59" y="539.0" width="2.1" height="69.0"/>
<rect x="799.28" y="539.0" width="2.1" height="69.0"/>
<rect x="802.98" y="539.0" width="2.1" height="69.0"/>
<rect x="806.67" y="539.0" width="2.1" height="69.0"/>
<rect x="810.37" y="539.0" width="2.1" height="69.0"/>
<rect x="814.06" y="539.0" width="2.1" height="69.0"/>
<rect x="817.76" y="539.0" width="2.1" height="69.0"/>
<rect x="821.45" y="539.0" width="2.1" height="69.0"/>
<rect x="825.15" y="538.0" width="2.1" height="70.0"/>
<rect x="828.84" y="539.0" width="2.1" height="69.0"/>
<rect x="832.54" y="539.0" width="2.1" height="69.0"/>
<rect x="836.23" y="539.0" width="2.1" height="69.0"/>
<rect x="839.93" y="538.0" width="2.1" height="70.0"/>
<rect x="843.62" y="539.0" width="2.1" height="69.0"/>
<rect x="847.32" y="539.0" width="2.1" height="69.0"/>
<rect x="851.01" y="539.0" width="2.1" height="69.0"/>
<rect x="854.71" y="539.0" width="2.1" height="69.0"/>
<rect x="858.40" y="539.0" width="2.1" height="69.0"/>
<rect x="862.10" y="539.0" width="2.1" height="69.0"/>
<rect x="865.79" y="538.0" width="2.1" height="70.0"/>
<rect x="869.49" y="539.0" width="2.1" height="69.0"/>
<rect x="873.18" y="537.7" width="2.1" height="70.3"/>
<rect x="876.88" y="589.0" width="2.1" height="19.0"/>
<rect x="880.57" y="589.0" width="2.1" height="19.0"/>
<rect x="884.26" y="589.0" width="2.1" height="19.0"/>
<rect x="887.96" y="589.0" width="2.1" height="19.0"/>
<rect x="891.65" y="589.0" width="2.1" height="19.0"/>
<rect x="895.35" y="588.0" width="2.1" height="20.0"/>
<rect x="899.04" y="588.0" width="2.1" height="20.0"/>
<rect x="902.74" y="588.0" width="2.1" height="20.0"/>
<rect x="906.43" y="588.0" width="2.1" height="20.0"/>
<rect x="910.13" y="588.0" width="2.1" height="20.0"/>
<rect x="913.82" y="588.0" width="2.1" height="20.0"/>
<rect x="917.52" y="588.0" width="2.1" height="20.0"/>
<rect x="921.21" y="588.0" width="2.1" height="20.0"/>
<rect x="924.91" y="588.0" width="2.1" height="20.0"/>
<rect x="928.60" y="588.0" width="2.1" height="20.0"/>
<rect x="932.30" y="588.0" width="2.1" height="20.0"/>
<rect x="935.99" y="588.0" width="2.1" height="20.0"/>
<rect x="939.69" y="588.0" width="2.1" height="20.0"/>
<rect x="943.38" y="588.0" width="2.1" height="20.0"/>
<rect x="947.08" y="588.0" width="2.1" height="20.0"/>
<rect x="950.77" y="587.0" width="2.1" height="21.0"/>
<rect x="954.47" y="588.0" width="2.1" height="20.0"/>
<rect x="958.16" y="588.0" width="2.1" height="20.0"/>
<rect x="961.86" y="587.0" width="2.1" height="21.0"/>
<rect x="965.55" y="588.0" width="2.1" height="20.0"/>
<rect x="969.25" y="588.0" width="2.1" height="20.0"/>
<rect x="972.94" y="588.0" width="2.1" height="20.0"/>
<rect x="976.64" y="588.0" width="2.1" height="20.0"/>
<rect x="980.33" y="588.0" width="2.1" height="20.0"/>
<rect x="984.02" y="588.0" width="2.1" height="20.0"/>
<rect x="987.72" y="587.0" width="2.1" height="21.0"/>
<rect x="991.41" y="587.0" width="2.1" height="21.0"/>
<rect x="995.11" y="588.0" width="2.1" height="20.0"/>
<rect x="998.80" y="588.0" width="2.1" height="20.0"/>
<rect x="1002.50" y="587.0" width="2.1" height="21.0"/>
<rect x="1006.19" y="588.0" width="2.1" height="20.0"/>
<rect x="1009.89" y="588.0" width="2.1" height="20.0"/>
<rect x="1013.58" y="587.0" width="2.1" height="21.0"/>
<rect x="1017.28" y="587.0" width="2.1" height="21.0"/>
<rect x="1020.97" y="587.0" width="2.1" height="21.0"/>
<rect x="1024.67" y="587.0" width="2.1" height="21.0"/>
<rect x="1028.36" y="587.0" width="2.1" height="21.0"/>
<rect x="1032.06" y="587.0" width="2.1" height="21.0"/>
<rect x="1035.75" y="587.0" width="2.1" height="21.0"/>
<rect x="1039.45" y="586.0" width="2.1" height="22.0"/>
<rect x="1043.14" y="586.0" width="2.1" height="22.0"/>
<rect x="1046.84" y="585.0" width="2.1" height="23.0"/>
<rect x="1050.53" y="585.0" width="2.1" height="23.0"/>
<rect x="1054.23" y="584.0" width="2.1" height="24.0"/>
<rect x="1057.92" y="584.0" width="2.1" height="24.0"/>
<rect x="1061.62" y="584.0" width="2.1" height="24.0"/>
<rect x="1065.31" y="581.0" width="2.1" height="27.0"/>
<rect x="1069.01" y="582.0" width="2.1" height="26.0"/>
<rect x="1072.70" y="582.0" width="2.1" height="26.0"/>
<rect x="1076.40" y="582.0" width="2.1" height="26.0"/>
<rect x="1080.09" y="582.0" width="2.1" height="26.0"/>
<rect x="1083.78" y="582.0" width="2.1" height="26.0"/>
<rect x="1087.48" y="582.0" width="2.1" height="26.0"/>
<rect x="1091.17" y="579.5" width="2.1" height="28.5"/>
<rect x="1094.87" y="579.5" width="2.1" height="28.5"/>
<rect x="1098.56" y="579.5" width="2.1" height="28.5"/>
<rect x="1102.26" y="579.5" width="2.1" height="28.5"/>
<rect x="1105.95" y="573.0" width="2.1" height="35.0"/>
<rect x="1109.65" y="573.0" width="2.1" height="35.0"/>
<rect x="1113.34" y="573.0" width="2.1" height="35.0"/>
<rect x="1117.04" y="573.0" width="2.1" height="35.0"/>
<rect x="1120.73" y="573.0" width="2.1" height="35.0"/>
<rect x="1124.43" y="573.0" width="2.1" height="35.0"/>
<rect x="1128.12" y="571.0" width="2.1" height="37.0"/>
<rect x="1131.82" y="570.0" width="2.1" height="38.0"/>
<rect x="1135.51" y="571.0" width="2.1" height="37.0"/>
<rect x="1139.21" y="570.0" width="2.1" height="38.0"/>
<rect x="1142.90" y="570.0" width="2.1" height="38.0"/>
<rect x="1146.60" y="570.0" width="2.1" height="38.0"/>
<rect x="1150.29" y="570.0" width="2.1" height="38.0"/>
<rect x="1153.99" y="570.0" width="2.1" height="38.0"/>
<rect x="1157.68" y="570.0" width="2.1" height="38.0"/>
<rect x="1161.38" y="570.0" width="2.1" height="38.0"/>
<rect x="1165.07" y="570.0" width="2.1" height="38.0"/>
<rect x="1168.77" y="569.0" width="2.1" height="39.0"/>
<rect x="1172.46" y="569.0" width="2.1" height="39.0"/>
<rect x="1176.16" y="568.0" width="2.1" height="40.0"/>
<rect x="1179.85" y="568.0" width="2.1" height="40.0"/>
</g>
<g stroke="#9ea3b0" stroke-width="1.2">
<line x1="212.5" y1="609" x2="212.5" y2="613"/>
<line x1="345.8" y1="609" x2="345.8" y2="613"/>
<line x1="478.6" y1="609" x2="478.6" y2="613"/>
<line x1="611.8" y1="609" x2="611.8" y2="613"/>
<line x1="744.7" y1="609" x2="744.7" y2="613"/>
<line x1="877.8" y1="609" x2="877.8" y2="613"/>
<line x1="1011.7" y1="609" x2="1011.7" y2="613"/>
</g>

<rect x="33" y="344" width="57" height="23" fill="#a3a7b2"/>

<!-- navigator -->
<rect x="90" y="641" width="1091" height="62" fill="#1b1d2a"/>
<path d="M90.5,675.3 L93.5,675.3 L97.9,674.8 L104.6,675.6 L109.0,674.6 L113.3,675.5 L115.7,675.5 L120.7,675.0 L123.7,675.3 L127.4,675.0 L131.1,674.0 L134.8,675.1 L138.5,675.0 L142.8,675.3 L146.5,675.1 L149.6,674.9 L152.7,675.1 L157.0,674.6 L162.0,674.5 L164.4,674.9 L169.4,674.0 L175.5,673.8 L181.7,674.9 L186.6,675.5 L190.3,674.4 L194.0,675.2 L197.7,675.5 L202.0,674.6 L205.1,674.9 L208.8,674.7 L211.3,675.6 L212.5,675.9 L216.2,675.8 L219.9,675.9 L223.6,675.8 L231.0,674.6 L233.7,674.9 L238.0,675.3 L241.7,676.5 L248.5,675.7 L252.8,676.4 L256.5,675.2 L260.2,676.5 L263.3,674.8 L267.0,674.8 L271.9,674.8 L278.7,675.8 L284.2,675.5 L290.4,674.6 L297.2,675.5 L304.0,674.7 L311.4,675.1 L316.3,675.7 L320.0,675.7 L323.1,675.2 L327.4,675.9 L333.5,675.5 L336.0,675.3 L342.2,675.6 L345.2,674.8 L349.6,674.8 L353.3,674.3 L356.3,674.4 L360.0,673.9 L363.7,674.6 L374.6,674.7 L378.5,673.9 L385.1,673.9 L389.7,673.5 L395.0,674.7 L397.6,674.7 L400.9,673.3 L404.8,673.5 L408.8,672.4 L416.0,672.9 L423.2,673.3 L426.5,672.1 L430.5,674.1 L434.4,671.8 L437.7,672.5 L441.7,671.4 L448.9,672.3 L456.1,671.0 L463.3,671.2 L467.3,671.5 L471.9,670.7 L476.5,670.6 L481.8,670.7 L489.0,669.8 L494.2,670.3 L500.8,669.8 L508.0,670.1 L514.6,668.8 L519.2,667.8 L522.5,668.4 L527.0,666.7 L530.1,664.4 L533.7,666.2 L542.0,665.9 L544.7,665.9 L548.4,664.8 L555.7,665.4 L559.4,663.3 L563.0,665.2 L567.6,664.6 L571.3,664.8 L574.9,664.2 L581.4,664.1 L585.0,661.0 L593.3,662.0 L596.9,659.5 L600.6,660.0 L607.9,659.7 L611.6,660.7 L615.2,660.1 L618.9,660.4 L626.2,658.6 L629.9,659.9 L637.2,658.9 L646.4,659.2 L651.9,658.5 L655.5,659.5 L659.2,658.2 L662.9,658.4 L666.5,658.0 L670.2,658.1 L677.5,656.5 L685.8,657.4 L689.4,658.3 L693.1,658.3 L696.7,658.0 L700.4,658.0 L704.1,657.3 L707.4,657.6 L711.5,658.4 L715.6,658.1 L718.9,655.7 L722.2,655.0 L726.3,656.7 L729.6,657.4 L733.7,654.9 L737.0,655.0 L741.1,655.6 L744.4,655.0 L748.5,654.8 L752.6,655.0 L758.3,654.8 L763.3,654.2 L767.4,654.4 L770.7,654.5 L774.0,653.8 L778.1,654.1 L782.2,654.0 L792.0,654.0 L796.1,654.6 L801.1,654.3 L810.1,654.1 L815.0,654.3 L818.3,655.4 L822.4,655.0 L825.7,653.8 L829.8,654.4 L833.1,653.9 L838.0,654.2 L844.6,654.8 L847.9,654.7 L851.2,654.1 L855.3,655.2 L858.6,655.0 L862.7,655.9 L866.8,655.2 L870.1,655.2 L873.7,654.1 L877.5,658.1 L880.8,659.3 L884.9,659.6 L889.0,660.4 L892.3,663.5 L895.6,661.6 L900.1,662.0 L903.5,662.0 L906.9,662.6 L911.4,662.0 L914.8,662.5 L918.2,661.4 L921.5,662.4 L926.0,661.4 L929.4,661.3 L933.9,662.5 L937.3,662.5 L944.1,661.8 L947.4,662.0 L950.8,663.4 L955.3,662.5 L957.6,662.4 L962.1,661.6 L965.5,662.0 L968.8,661.9 L973.4,661.4 L977.9,661.9 L984.6,662.1 L988.0,661.9 L991.4,662.4 L995.9,661.8 L1000.4,662.0 L1003.8,662.0 L1007.1,662.5 L1011.6,663.3 L1018.4,663.5 L1025.2,665.1 L1028.5,665.1 L1033.1,665.8 L1036.4,665.4 L1039.8,666.5 L1043.2,669.1 L1046.6,668.9 L1049.9,669.8 L1054.5,671.3 L1062.3,672.3 L1065.7,675.4 L1065.9,676.4 L1068.0,675.9 L1072.9,675.6 L1076.7,676.8 L1081.0,677.7 L1086.8,677.9 L1091.1,679.9 L1095.4,680.7 L1098.9,681.8 L1102.6,681.9 L1105.5,694.9 L1112.7,695.4 L1117.1,696.0 L1121.4,693.9 L1133.0,693.4 L1138.7,693.1 L1144.5,691.4 L1150.3,692.1 L1156.0,691.4 L1161.8,691.3 L1166.1,690.3 L1174.8,688.0 L1177.7,687.0 L1181.0,687.0 L1181.0,703 L90.5,703 Z" fill="url(#navg)"/>
<path d="M90.5,675.3 L93.5,675.3 L97.9,674.8 L104.6,675.6 L109.0,674.6 L113.3,675.5 L115.7,675.5 L120.7,675.0 L123.7,675.3 L127.4,675.0 L131.1,674.0 L134.8,675.1 L138.5,675.0 L142.8,675.3 L146.5,675.1 L149.6,674.9 L152.7,675.1 L157.0,674.6 L162.0,674.5 L164.4,674.9 L169.4,674.0 L175.5,673.8 L181.7,674.9 L186.6,675.5 L190.3,674.4 L194.0,675.2 L197.7,675.5 L202.0,674.6 L205.1,674.9 L208.8,674.7 L211.3,675.6 L212.5,675.9 L216.2,675.8 L219.9,675.9 L223.6,675.8 L231.0,674.6 L233.7,674.9 L238.0,675.3 L241.7,676.5 L248.5,675.7 L252.8,676.4 L256.5,675.2 L260.2,676.5 L263.3,674.8 L267.0,674.8 L271.9,674.8 L278.7,675.8 L284.2,675.5 L290.4,674.6 L297.2,675.5 L304.0,674.7 L311.4,675.1 L316.3,675.7 L320.0,675.7 L323.1,675.2 L327.4,675.9 L333.5,675.5 L336.0,675.3 L342.2,675.6 L345.2,674.8 L349.6,674.8 L353.3,674.3 L356.3,674.4 L360.0,673.9 L363.7,674.6 L374.6,674.7 L378.5,673.9 L385.1,673.9 L389.7,673.5 L395.0,674.7 L397.6,674.7 L400.9,673.3 L404.8,673.5 L408.8,672.4 L416.0,672.9 L423.2,673.3 L426.5,672.1 L430.5,674.1 L434.4,671.8 L437.7,672.5 L441.7,671.4 L448.9,672.3 L456.1,671.0 L463.3,671.2 L467.3,671.5 L471.9,670.7 L476.5,670.6 L481.8,670.7 L489.0,669.8 L494.2,670.3 L500.8,669.8 L508.0,670.1 L514.6,668.8 L519.2,667.8 L522.5,668.4 L527.0,666.7 L530.1,664.4 L533.7,666.2 L542.0,665.9 L544.7,665.9 L548.4,664.8 L555.7,665.4 L559.4,663.3 L563.0,665.2 L567.6,664.6 L571.3,664.8 L574.9,664.2 L581.4,664.1 L585.0,661.0 L593.3,662.0 L596.9,659.5 L600.6,660.0 L607.9,659.7 L611.6,660.7 L615.2,660.1 L618.9,660.4 L626.2,658.6 L629.9,659.9 L637.2,658.9 L646.4,659.2 L651.9,658.5 L655.5,659.5 L659.2,658.2 L662.9,658.4 L666.5,658.0 L670.2,658.1 L677.5,656.5 L685.8,657.4 L689.4,658.3 L693.1,658.3 L696.7,658.0 L700.4,658.0 L704.1,657.3 L707.4,657.6 L711.5,658.4 L715.6,658.1 L718.9,655.7 L722.2,655.0 L726.3,656.7 L729.6,657.4 L733.7,654.9 L737.0,655.0 L741.1,655.6 L744.4,655.0 L748.5,654.8 L752.6,655.0 L758.3,654.8 L763.3,654.2 L767.4,654.4 L770.7,654.5 L774.0,653.8 L778.1,654.1 L782.2,654.0 L792.0,654.0 L796.1,654.6 L801.1,654.3 L810.1,654.1 L815.0,654.3 L818.3,655.4 L822.4,655.0 L825.7,653.8 L829.8,654.4 L833.1,653.9 L838.0,654.2 L844.6,654.8 L847.9,654.7 L851.2,654.1 L855.3,655.2 L858.6,655.0 L862.7,655.9 L866.8,655.2 L870.1,655.2 L873.7,654.1 L877.5,658.1 L880.8,659.3 L884.9,659.6 L889.0,660.4 L892.3,663.5 L895.6,661.6 L900.1,662.0 L903.5,662.0 L906.9,662.6 L911.4,662.0 L914.8,662.5 L918.2,661.4 L921.5,662.4 L926.0,661.4 L929.4,661.3 L933.9,662.5 L937.3,662.5 L944.1,661.8 L947.4,662.0 L950.8,663.4 L955.3,662.5 L957.6,662.4 L962.1,661.6 L965.5,662.0 L968.8,661.9 L973.4,661.4 L977.9,661.9 L984.6,662.1 L988.0,661.9 L991.4,662.4 L995.9,661.8 L1000.4,662.0 L1003.8,662.0 L1007.1,662.5 L1011.6,663.3 L1018.4,663.5 L1025.2,665.1 L1028.5,665.1 L1033.1,665.8 L1036.4,665.4 L1039.8,666.5 L1043.2,669.1 L1046.6,668.9 L1049.9,669.8 L1054.5,671.3 L1062.3,672.3 L1065.7,675.4 L1065.9,676.4 L1068.0,675.9 L1072.9,675.6 L1076.7,676.8 L1081.0,677.7 L1086.8,677.9 L1091.1,679.9 L1095.4,680.7 L1098.9,681.8 L1102.6,681.9 L1105.5,694.9 L1112.7,695.4 L1117.1,696.0 L1121.4,693.9 L1133.0,693.4 L1138.7,693.1 L1144.5,691.4 L1150.3,692.1 L1156.0,691.4 L1161.8,691.3 L1166.1,690.3 L1174.8,688.0 L1177.7,687.0 L1181.0,687.0" fill="none" stroke="#4a70e4" stroke-width="1.4"/>

<rect x="85" y="658" width="12.5" height="23.5" rx="5" fill="#393c4b"/>
<line x1="89.5" y1="665" x2="89.5" y2="674" stroke="#b5b9c4" stroke-width="1"/>
<line x1="92.5" y1="665" x2="92.5" y2="674" stroke="#b5b9c4" stroke-width="1"/>
<rect x="1173.5" y="658" width="12.5" height="24" rx="5" fill="#393c4b"/>
<rect x="1183" y="640" width="40" height="70" fill="#17171a"/>
<line x1="1178.5" y1="666" x2="1178.5" y2="674" stroke="#c0c3cc" stroke-width="1"/>
<line x1="1181.5" y1="666" x2="1181.5" y2="674" stroke="#c0c3cc" stroke-width="1"/>

<!-- CMC watermark -->
<g fill="none" stroke="#d8dae2" stroke-width="2.8" stroke-linecap="round" stroke-linejoin="round">
 <path d="M1019.4,485.6 A13.4,13.4 0 1 1 1023.3,477.2"/>
 <path d="M1000.9,483.2 L1005.6,472.2 C1006.5,469.8 1008.0,469.6 1008.4,472.5 L1009.0,477.5 C1009.3,480.5 1010.8,480.8 1012.0,478.8 L1015.2,472.8 C1016.3,470.6 1017.8,470.8 1018.3,473.2 L1019.3,477.8 C1019.9,480.6 1021.8,481.2 1023.1,476.8"/>
</g>
<text x="1034" y="482.5" font-family="Liberation Sans" font-weight="400" font-size="18.2" letter-spacing="0.85" fill="#d8dae2" stroke="#d8dae2" stroke-width="0.6">CoinMarketCap</text>

<!-- blue circle -->
<circle cx="-14.5" cy="622" r="40.2" fill="#3c6df0"/>
<g fill="#fff">
 <rect x="-6" y="601.8" width="23.5" height="41" rx="2.5"/>
</g>
<g fill="#3c6df0">
 <rect x="-6" y="605" width="11" height="34"/>
 <rect x="8.7" y="605.5" width="6" height="3.4" rx="1"/>
 <rect x="8.7" y="615" width="6" height="3.4" rx="1"/>
 <rect x="8.7" y="625" width="6" height="3.4" rx="1"/>
 <rect x="8.7" y="634.5" width="6" height="3.4" rx="1"/>
</g>
<rect x="-3" y="627.8" width="4.3" height="6" fill="#fff"/>
</svg>

<div class="abs" style="left:32px;top:344px;width:57px;height:23px;line-height:23px;text-align:center;font-size:14.4px;font-weight:700;color:#fff">0.017</div>
<div class="abs" style="left:40px;top:614.5px;font-size:15.2px;font-weight:700;color:#a1a7bb;line-height:18px">USD</div>
<div class="xl" style="left:152.5px">4:04 PM</div>
<div class="xl" style="left:285.8px">7:04 PM</div>
<div class="xl" style="left:418.6px">10:04 PM</div>
<div class="xl" style="left:551.8px">1:04 AM</div>
<div class="xl" style="left:684.7px">4:04 AM</div>
<div class="xl" style="left:818.0999999999999px;font-weight:700;font-size:15px;top:616.5px;-webkit-text-stroke:0">3</div>
<div class="xl" style="left:951.7px">10:04 AM</div>
<div class="nl" style="left:152.5px">4:04 PM</div>
<div class="nl" style="left:285.8px">7:04 PM</div>
<div class="nl" style="left:418.6px">10:04 PM</div>
<div class="nl" style="left:551.8px">1:04 AM</div>
<div class="nl" style="left:684.7px">4:04 AM</div>
<div class="nl" style="left:818.0999999999999px;font-weight:700;font-size:15px;top:679.5px;-webkit-text-stroke:0">3</div>
<div class="nl" style="left:951.7px">10:04 AM</div>
<svg class="abs" style="left:0;top:0" width="1217" height="710" viewBox="0 0 1217 710">
<g stroke="#c8ccd6" stroke-width="1.6">
<line x1="213.5" y1="641" x2="213.5" y2="703"/>
<line x1="346.8" y1="641" x2="346.8" y2="703"/>
<line x1="479.6" y1="641" x2="479.6" y2="703"/>
<line x1="612.8" y1="641" x2="612.8" y2="703"/>
<line x1="745.7" y1="641" x2="745.7" y2="703"/>
<line x1="878.8" y1="641" x2="878.8" y2="703"/>
<line x1="1012.7" y1="641" x2="1012.7" y2="703"/>
<line x1="1144.4" y1="641" x2="1144.4" y2="703"/>
<line x1="92.3" y1="641" x2="92.3" y2="658"/>
<line x1="92.3" y1="681.5" x2="92.3" y2="703"/>
</g>
</svg>
</body></html>
